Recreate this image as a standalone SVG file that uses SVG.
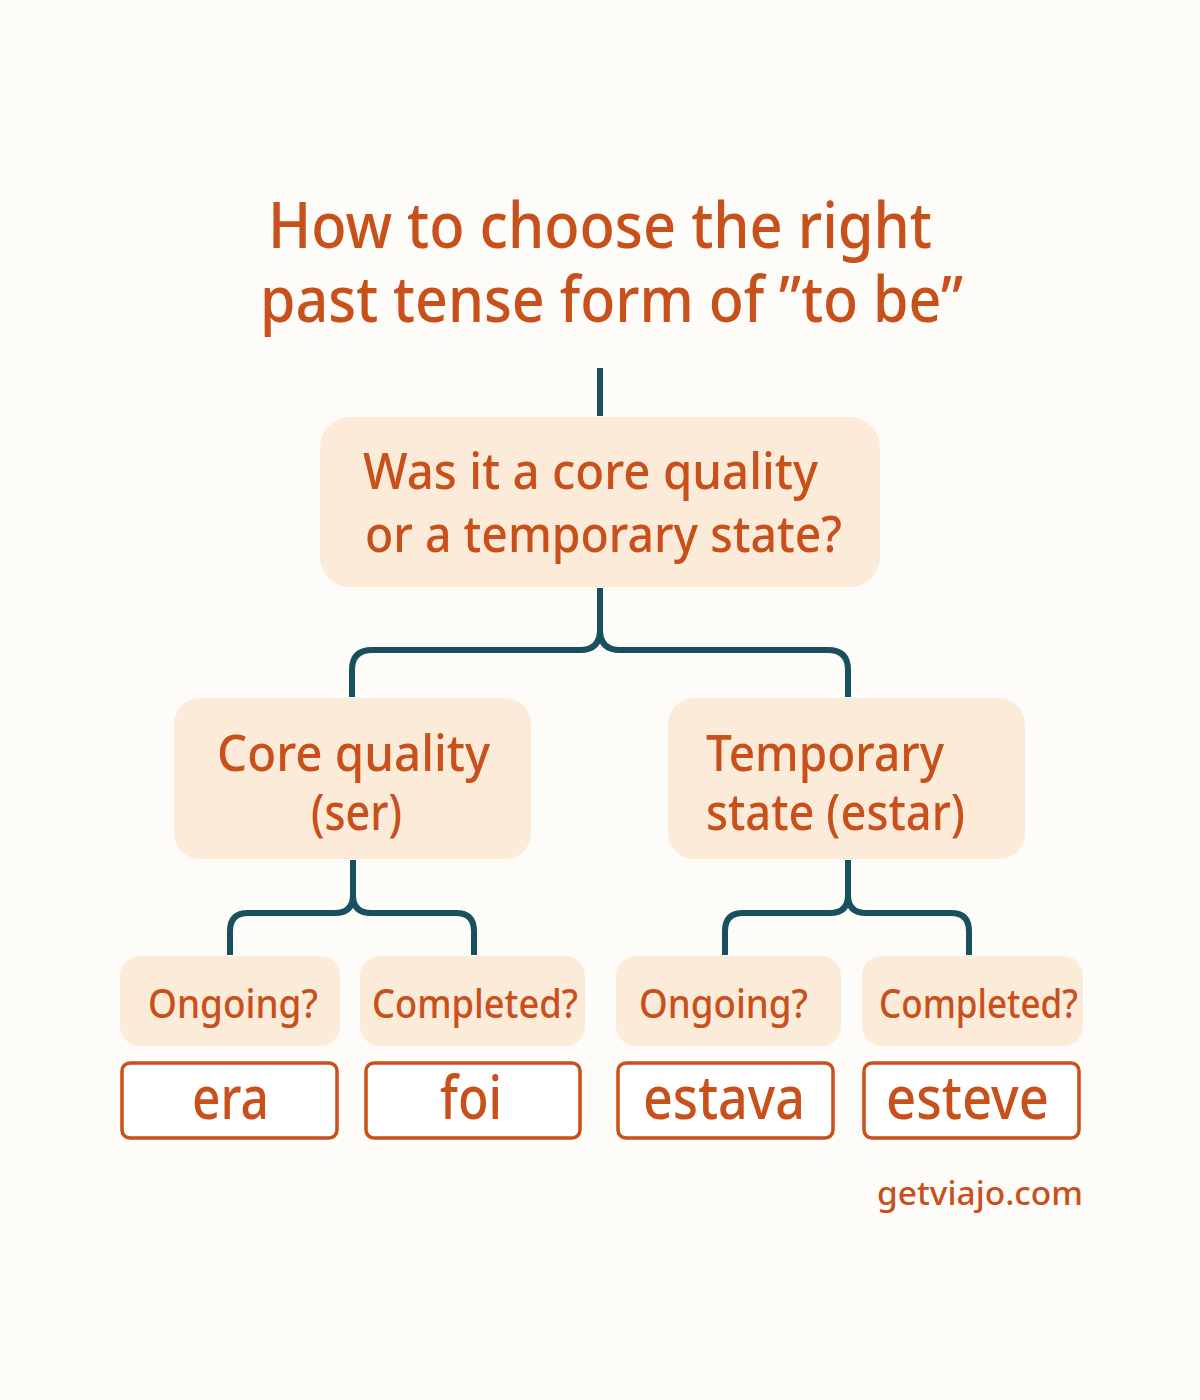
<svg xmlns="http://www.w3.org/2000/svg" width="1200" height="1400" viewBox="0 0 1200 1400">
<style>
.t{font-family:"Noto Sans","Open Sans",sans-serif;fill:#C8501B;font-weight:500}
.node{fill:#FDEBDA}
.ans{fill:#FFFFFF;stroke:#C8501B;stroke-width:3.5}
.con{fill:none;stroke:#18505F;stroke-width:6}
</style>
<rect width="1200" height="1400" fill="#FDFCF9"/>
<g id="title">
<text class="t" x="268" y="248" font-size="64" textLength="664" lengthAdjust="spacingAndGlyphs">How to choose the right</text>
<text class="t" x="260" y="322" font-size="64" textLength="703" lengthAdjust="spacingAndGlyphs">past tense form of ”to be”</text>
</g>
<g id="connectors">
<path class="con" d="M600 368 V416"/>
<path class="con" d="M600 588 V630 Q600 650 580 650 H372 Q352 650 352 670 V697"/>
<path class="con" d="M600 630 Q600 650 620 650 H828 Q848 650 848 670 V697"/>
<path class="con" d="M353 860 V895 Q353 913 335 913 H248 Q230 913 230 931 V955"/>
<path class="con" d="M353 895 Q353 913 371 913 H456 Q474 913 474 931 V955"/>
<path class="con" d="M848 860 V895 Q848 913 830 913 H743 Q725 913 725 931 V955"/>
<path class="con" d="M848 895 Q848 913 866 913 H951 Q969 913 969 931 V955"/>
</g>
<g id="root">
<rect class="node" x="320" y="417" width="560" height="170" rx="30"/>
<text class="t" x="363" y="489" font-size="51" textLength="455" lengthAdjust="spacingAndGlyphs">Was it a core quality</text>
<text class="t" x="365" y="552" font-size="51" textLength="477" lengthAdjust="spacingAndGlyphs">or a temporary state?</text>
</g>
<g id="core">
<rect class="node" x="174" y="698" width="357" height="161" rx="26"/>
<text class="t" x="217" y="771" font-size="51" textLength="273" lengthAdjust="spacingAndGlyphs">Core quality</text>
<text class="t" x="311" y="830" font-size="51" textLength="91" lengthAdjust="spacingAndGlyphs">(ser)</text>
</g>
<g id="temp">
<rect class="node" x="668" y="698" width="357" height="161" rx="26"/>
<text class="t" x="706" y="771" font-size="51" textLength="238" lengthAdjust="spacingAndGlyphs">Temporary</text>
<text class="t" x="706" y="830" font-size="51" textLength="259" lengthAdjust="spacingAndGlyphs">state (estar)</text>
</g>
<g id="q1">
<rect class="node" x="120" y="956" width="220" height="90" rx="20"/>
<text class="t" x="148" y="1018" font-size="40" textLength="170" lengthAdjust="spacingAndGlyphs">Ongoing?</text>
</g>
<g id="q2">
<rect class="node" x="360" y="956" width="225" height="90" rx="20"/>
<text class="t" x="372" y="1018" font-size="40" textLength="206" lengthAdjust="spacingAndGlyphs">Completed?</text>
</g>
<g id="q3">
<rect class="node" x="616" y="956" width="225" height="90" rx="20"/>
<text class="t" x="639" y="1018" font-size="40" textLength="169" lengthAdjust="spacingAndGlyphs">Ongoing?</text>
</g>
<g id="q4">
<rect class="node" x="862" y="956" width="221" height="90" rx="20"/>
<text class="t" x="879" y="1018" font-size="40" textLength="199" lengthAdjust="spacingAndGlyphs">Completed?</text>
</g>
<g id="a1">
<rect class="ans" x="122" y="1063" width="215" height="75" rx="8"/>
<text class="t" x="192" y="1119" font-size="60" textLength="77" lengthAdjust="spacingAndGlyphs">era</text>
</g>
<g id="a2">
<rect class="ans" x="366" y="1063" width="214" height="75" rx="8"/>
<text class="t" x="440" y="1119" font-size="60" textLength="62" lengthAdjust="spacingAndGlyphs">foi</text>
</g>
<g id="a3">
<rect class="ans" x="618" y="1063" width="215" height="75" rx="8"/>
<text class="t" x="643" y="1119" font-size="60" textLength="162" lengthAdjust="spacingAndGlyphs">estava</text>
</g>
<g id="a4">
<rect class="ans" x="864" y="1063" width="215" height="75" rx="8"/>
<text class="t" x="886" y="1119" font-size="60" textLength="163" lengthAdjust="spacingAndGlyphs">esteve</text>
</g>
<g id="footer">
<text class="t" x="877" y="1205" font-size="33" textLength="206" lengthAdjust="spacingAndGlyphs">getviajo.com</text>
</g>
</svg>
